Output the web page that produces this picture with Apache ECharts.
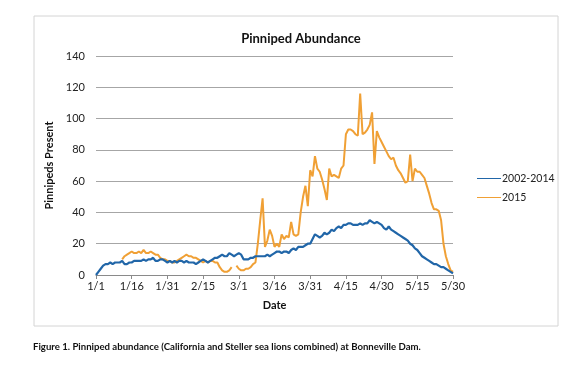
<!DOCTYPE html>
<html><head><meta charset="utf-8">
<script src="https://cdn.jsdelivr.net/npm/echarts@6/dist/echarts.min.js"></script>
<style>html,body{margin:0;padding:0;background:#fff}#c{width:580px;height:373px}</style>
</head><body><div id="c"></div>
<script>
// Days from 1/1 to 5/30 (leap-year calendar, 151 days)
const monthLengths = [31, 29, 31, 30, 30];
const dates = [];
for (let m = 0; m < monthLengths.length; m++) {
  for (let d = 1; d <= monthLengths[m]; d++) dates.push((m + 1) + '/' + d);
}
const tickLabels = ['1/1','1/16','1/31','2/15','3/1','3/16','3/31','4/15','4/30','5/15','5/30'];
const seriesNames = ['2002-2014', '2015'];

const avg2002_2014 = [
  0,2,4,6,7,7,8,7,8,8,
  8,9,7,7,8,8,9,9,9,9,
  10,9,10,10,11,9,9,10,10,9,
  8,9,8,9,8,9,9,8,9,8,
  8,8,7,8,9,10,9,8,9,10,
  11,11,12,13,12,12,14,13,12,13,
  14,13,10,10,10,11,11,12,12,12,
  12,12,13,12,13,14,15,15,14,15,
  15,14,16,17,16,18,18,18,19,20,
  20,23,26,25,24,25,27,26,27,29,
  28,30,31,30,32,32,33,33,32,32,
  32,33,32,33,33,35,34,33,34,33,
  32,30,29,31,29,28,27,26,25,24,
  23,22,20,19,17,16,14,12,11,10,
  9,8,7,7,6,5,5,4,3,2,
  1
];
const y2015 = [
  null,null,null,null,null,null,null,null,null,null,
  null,10,12,13,14,15,14,14,15,14,
  16,14,14,15,14,13,13,11,10,10,
  9,9,8,8,9,10,11,12,13,12,
  12,11,11,10,9,8,9,8,9,9,
  8,8,5,3,2,2,3,5,null,6,
  4,3,3,4,4,5,7,8,20,35,
  49,18,22,29,25,18,20,18,26,23,
  25,24,34,26,25,26,40,50,57,44,
  67,63,76,68,66,61,55,48,68,63,
  64,63,62,68,70,90,93,93,92,90,
  89,116,90,91,93,96,104,71,92,88,
  85,82,79,76,74,75,70,67,65,62,
  59,60,77,60,68,66,66,64,62,57,
  52,46,42,42,41,35,20,12,7,3,
  2
];

const chart = echarts.init(document.getElementById('c'), null, {renderer: 'canvas'});
const font = 'Lato, "Open Sans", sans-serif';
chart.setOption({
  animation: false,
  backgroundColor: '#fff',
  graphic: [
    {type: 'rect', shape: {x: 34, y: 16, width: 524, height: 310},
     style: {fill: 'none', stroke: '#d4d4d4', lineWidth: 1}, silent: true},
    {type: 'text', left: 33, top: 342,
     style: {text: 'Figure 1. Pinniped abundance (California and Steller sea lions combined) at Bonneville Dam.',
             font: 'bold 9.6px ' + font, fill: '#111'}}
  ],
  title: {
    text: 'Pinniped Abundance', left: 296, top: 27, textAlign: 'center',
    textStyle: {fontFamily: font, fontWeight: 'bold', fontSize: 13, color: '#111'}
  },
  legend: {
    orient: 'vertical', left: 472, top: 168, itemGap: 8,
    itemWidth: 24, itemHeight: 10, icon: 'path://M0,4.5L24,4.5L24,5.5L0,5.5Z',
    textStyle: {fontFamily: font, fontSize: 10.5, color: '#222', padding: [0,0,0,-4]},
    data: seriesNames
  },
  grid: {left: 96, right: 127, top: 56, bottom: 98, containLabel: false},
  xAxis: {
    type: 'category', data: dates, boundaryGap: false,
    name: 'Date', nameLocation: 'middle', nameGap: 25,
    nameTextStyle: {fontFamily: font, fontWeight: 'bold', fontSize: 11, color: '#111'},
    axisLine: {lineStyle: {color: '#8a8a8a', width: 1}},
    axisTick: {show: true, length: 4, lineStyle: {color: '#8a8a8a'},
               interval: (i, v) => tickLabels.indexOf(v) >= 0},
    axisLabel: {interval: (i, v) => tickLabels.indexOf(v) >= 0,
                fontFamily: font, fontSize: 11, color: '#222', margin: 6},
    splitLine: {show: false}
  },
  yAxis: {
    type: 'value', min: 0, max: 140, interval: 20,
    name: 'Pinnipeds Present', nameLocation: 'middle', nameGap: 31, nameRotate: 90,
    nameTextStyle: {fontFamily: font, fontWeight: 'bold', fontSize: 11, color: '#111'},
    axisLine: {show: false}, axisTick: {show: false},
    axisLabel: {fontFamily: font, fontSize: 11, color: '#222', margin: 11},
    splitLine: {lineStyle: {color: '#a6a6a6', width: 1}}
  },
  series: [
    {name: seriesNames[0], type: 'line', data: avg2002_2014, showSymbol: false,
     color: '#2166a8', lineStyle: {width: 2.2, color: '#2166a8'}, z: 3},
    {name: seriesNames[1], type: 'line', data: y2015, showSymbol: false, connectNulls: false,
     color: '#f0a035', lineStyle: {width: 2, color: '#f0a035'}, z: 2}
  ]
});
</script></body></html>
